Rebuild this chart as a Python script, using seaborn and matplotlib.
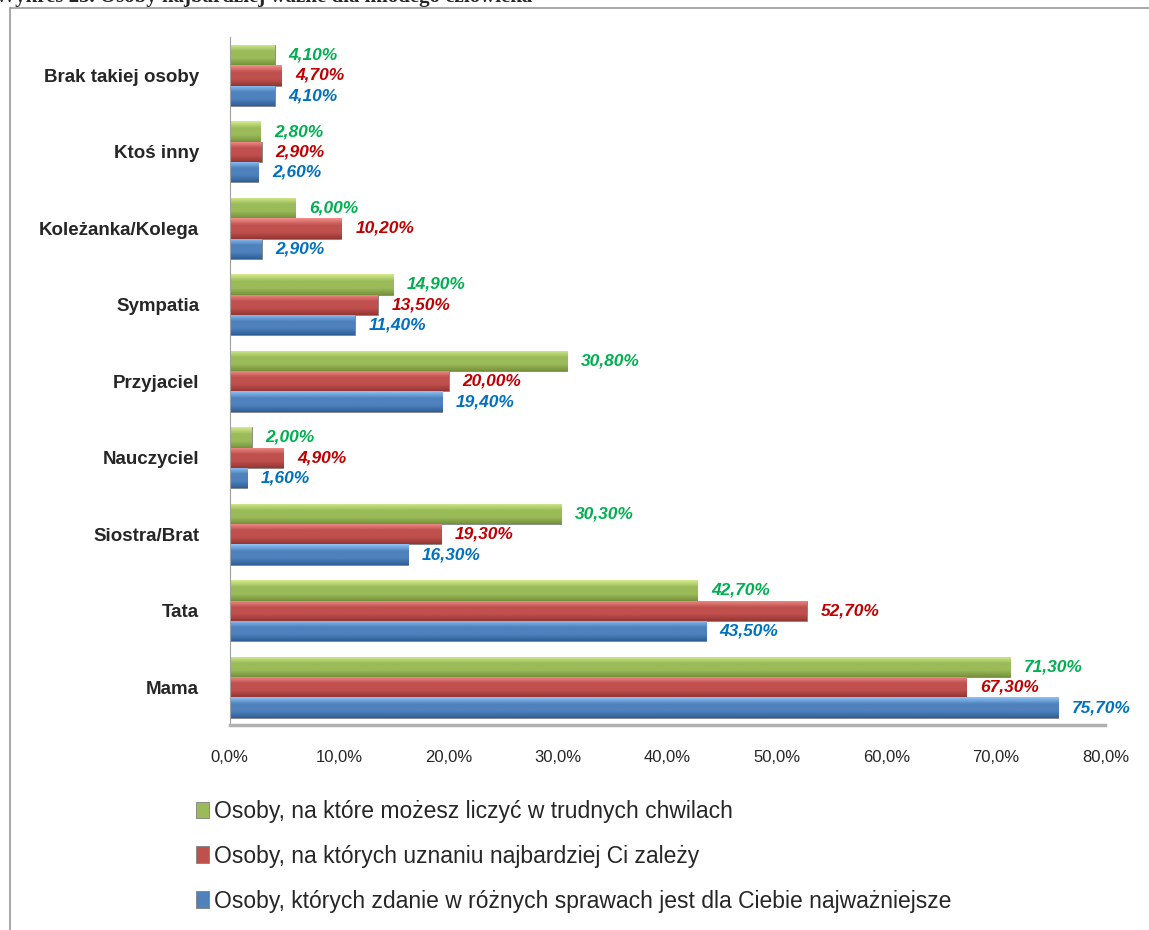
import matplotlib
matplotlib.use("Agg")
import matplotlib.pyplot as plt
from matplotlib.colors import LinearSegmentedColormap
from matplotlib.lines import Line2D
from matplotlib.ticker import FuncFormatter
import numpy as np
import pandas as pd
import seaborn as sns

# Dane z wykresu
kategorie = ["Brak takiej osoby", "Ktoś inny", "Koleżanka/Kolega", "Sympatia",
             "Przyjaciel", "Nauczyciel", "Siostra/Brat", "Tata", "Mama"]
serie = ["Osoby, na które możesz liczyć w trudnych chwilach",
         "Osoby, na których uznaniu najbardziej Ci zależy",
         "Osoby, których zdanie w różnych sprawach jest dla Ciebie najważniejsze"]
liczyc = [4.1, 2.8, 6.0, 14.9, 30.8, 2.0, 30.3, 42.7, 71.3]
uznanie = [4.7, 2.9, 10.2, 13.5, 20.0, 4.9, 19.3, 52.7, 67.3]
zdanie = [4.1, 2.6, 2.9, 11.4, 19.4, 1.6, 16.3, 43.5, 75.7]
tytul = "Wykres 25. Osoby najbardziej ważne dla młodego człowieka"

kolory = ["#9bbb59", "#c0504d", "#4f81bd"]
kolory_jasne = ["#d4ec8e", "#f2908c", "#8fc3f5"]
kolory_ciemne = ["#76923c", "#943634", "#2f5f98"]
kolory_etykiet = ["#00b050", "#c00000", "#0070c0"]

df = pd.DataFrame({
    "kategoria": kategorie * 3,
    "seria": [serie[0]] * 9 + [serie[1]] * 9 + [serie[2]] * 9,
    "wartosc": liczyc + uznanie + zdanie,
})

sns.set_style("white")
plt.rcParams["font.family"] = ["Liberation Sans", "DejaVu Sans"]

fig = plt.figure(figsize=(11.49, 9.3), dpi=100)
ax = fig.add_axes([0.200, 0.220, 0.762, 0.740])

sns.barplot(data=df, x="wartosc", y="kategoria", hue="seria", order=kategorie,
            hue_order=serie, palette=kolory, saturation=1, orient="h", width=0.8,
            edgecolor="#808080", linewidth=0.6, ax=ax)

ax.set_xlim(0, 80)
xl, yl = ax.get_xlim(), ax.get_ylim()

# Efekt "3D" - gradient w każdym słupku
for cont, jasny, kol, ciemny in zip(ax.containers, kolory_jasne, kolory, kolory_ciemne):
    cmap = LinearSegmentedColormap.from_list("g", [jasny, kol, kol, ciemny])
    grad = np.linspace(0, 1, 64).reshape(-1, 1)
    for b in cont:
        x0, y0, w, h = b.get_x(), b.get_y(), b.get_width(), b.get_height()
        im = ax.imshow(grad, extent=[x0, x0 + w, y0 + h, y0], origin="upper",
                       aspect="auto", cmap=cmap, zorder=b.get_zorder() + 0.1)
        im.set_clip_path(b)
ax.set_xlim(xl)
ax.set_ylim(yl)

# Etykiety wartości
for cont, kol in zip(ax.containers, kolory_etykiet):
    etyk = [f"{b.get_width():.2f}%".replace(".", ",") for b in cont]
    ax.bar_label(cont, labels=etyk, padding=10, color=kol, fontsize=12.5,
                 fontweight="bold", fontstyle="italic")

ax.set_xticks(range(0, 81, 10))
ax.xaxis.set_major_formatter(FuncFormatter(lambda v, p: f"{v:.1f}%".replace(".", ",")))
ax.set_xlabel("")
ax.set_ylabel("")
ax.tick_params(axis="x", length=0, pad=18, labelsize=12)
ax.tick_params(axis="y", length=0, pad=22, labelsize=13.5)
for t in ax.get_yticklabels():
    t.set_fontweight("bold")
sns.despine(ax=ax, top=True, right=True)
ax.spines["left"].set_color("#a0a0a0")
ax.spines["bottom"].set_color("#b0b0b0")
ax.spines["bottom"].set_linewidth(2.5)

# Legenda pod wykresem
uchwyty, nazwy = ax.get_legend_handles_labels()
ax.get_legend().remove()
fig.legend(uchwyty, nazwy, loc="upper left", bbox_to_anchor=(0.153, 0.162),
           frameon=False, fontsize=16.5, handlelength=0.55, handleheight=0.75,
           handletextpad=0.2, labelspacing=0.95)

# Ramka i ucięty tytuł (jak w oryginale)
fig.add_artist(Line2D([0.009, 0.009], [0, 0.991], color="#9a9a9a", lw=1.2))
fig.add_artist(Line2D([0.009, 1.0], [0.991, 0.991], color="#9a9a9a", lw=1.2))
fig.text(-0.004, 1.003, tytul, ha="left", va="center", fontsize=15,
         fontweight="bold", family=["Liberation Serif", "DejaVu Serif"])

fig.savefig("out.png", dpi=100)
